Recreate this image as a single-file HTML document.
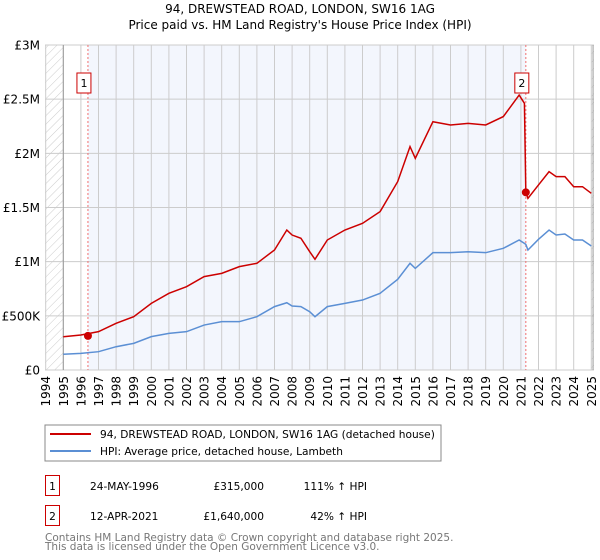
<!DOCTYPE html>
<html><head><meta charset="utf-8"><style>
body{margin:0;background:#fff;font-family:"DejaVu Sans","Liberation Sans",sans-serif;}
svg{display:block}
</style></head><body>
<svg id="chart" width="600" height="560" xmlns="http://www.w3.org/2000/svg" font-family="DejaVu Sans, Liberation Sans, sans-serif">
<defs><pattern id="hatch" width="6" height="6" patternUnits="userSpaceOnUse" patternTransform="rotate(45)"><line x1="0" y1="0" x2="0" y2="6" stroke="#ccc" stroke-width="1"/></pattern></defs>
<text x="300" y="13" text-anchor="middle" font-size="12">94, DREWSTEAD ROAD, LONDON, SW16 1AG</text>
<text x="300" y="29" text-anchor="middle" font-size="12">Price paid vs. HM Land Registry's House Price Index (HPI)</text>
<g id="plot"></g>
<rect x="45" y="425" width="396" height="36" fill="#fff" stroke="#888"/>
<line x1="50" y1="434" x2="91" y2="434" stroke="#cc0000" stroke-width="2"/>
<text x="100" y="438" font-size="10.6">94, DREWSTEAD ROAD, LONDON, SW16 1AG (detached house)</text>
<line x1="50" y1="451" x2="91" y2="451" stroke="#5b8fd4" stroke-width="2"/>
<text x="100" y="455" font-size="10.6">HPI: Average price, detached house, Lambeth</text>
<g font-size="10.6">
<rect x="45.5" y="475.5" width="14" height="20" fill="#fff" stroke="#cc0000"/>
<text x="52.5" y="490" text-anchor="middle">1</text>
<text x="90" y="490">24-MAY-1996</text>
<text x="264" y="490" text-anchor="end">£315,000</text>
<text x="367" y="490" text-anchor="end">111% ↑ HPI</text>
<rect x="45.5" y="505.5" width="14" height="20" fill="#fff" stroke="#cc0000"/>
<text x="52.5" y="520" text-anchor="middle">2</text>
<text x="90" y="520">12-APR-2021</text>
<text x="264" y="520" text-anchor="end">£1,640,000</text>
<text x="367" y="520" text-anchor="end">42% ↑ HPI</text>
</g>
<text x="45" y="541" font-size="10.5" fill="#777">Contains HM Land Registry data © Crown copyright and database right 2025.</text>
<text x="45" y="550" font-size="10.5" fill="#777">This data is licensed under the Open Government Licence v3.0.</text>
</svg>
<script>
const yearsT=[1995,1996,1997,1998,1999,2000,2001,2002,2003,2004,2005,2006,2007,2007.7,2008,2008.5,2009,2009.3,2010,2011,2012,2013,2014,2014.7,2015,2016,2017,2018,2019,2020,2020.9,2021.2];
const redBefore=[307000,323000,354000,431000,492000,615000,708000,769000,862000,892000,954000,985000,1108000,1292000,1246000,1216000,1092000,1022000,1200000,1292000,1354000,1462000,1739000,2062000,1954000,2292000,2262000,2277000,2262000,2339000,2538000,2462000];
const blue=[145000,154000,169000,215000,246000,308000,338000,354000,415000,446000,446000,492000,585000,621000,591000,585000,538000,492000,585000,615000,646000,708000,837000,985000,938000,1083000,1083000,1092000,1083000,1123000,1200000,1169000];
const yearsAfter=[2021.28,2021.4,2022,2022.6,2023,2023.5,2024,2024.5,2025];
const redAfter=[1640000,1585000,1708000,1831000,1785000,1785000,1692000,1692000,1631000];
const blueAfter=[1160000,1108000,1206000,1292000,1246000,1255000,1200000,1200000,1145000];
const saleYears=[1996.4,2021.28];
const salePrices=[315000,1640000];
const saleLabels=["1","2"];
const yTickVals=[0,500000,1000000,1500000,2000000,2500000,3000000];
const yTickLabels=["£0","£500K","£1M","£1.5M","£2M","£2.5M","£3M"];
const xTickYears=[1994,1995,1996,1997,1998,1999,2000,2001,2002,2003,2004,2005,2006,2007,2008,2009,2010,2011,2012,2013,2014,2015,2016,2017,2018,2019,2020,2021,2022,2023,2024,2025];
const NS="http://www.w3.org/2000/svg";
const X=y=>63.3+17.6*(y-1995);
const Y=v=>370-v/3000000*325;
const g=document.getElementById('plot');
function mk(t,a){const e=document.createElementNS(NS,t);for(const k in a)e.setAttribute(k,a[k]);g.appendChild(e);return e;}
let e;
e=mk('rect',{x:45,y:45,width:X(2025.15)-45,height:325,fill:'#fff'});


e=mk('rect',{x:X(saleYears[0]),y:45,width:X(saleYears[1])-X(saleYears[0]),height:325,fill:'#f3f6fd'});


e=mk('rect',{x:45,y:45,width:X(1995)-45,height:325,fill:'url(#hatch)'});


e=mk('rect',{x:X(2025),y:45,width:X(2025.15)-X(2025),height:325,fill:'url(#hatch)'});


xTickYears.forEach(yr=>{
 e=mk('line',{x1:X(yr),x2:X(yr),y1:45,y2:370,stroke:'#ccc','stroke-width':1});
 
 
 e=mk('text',{x:0,y:0,'font-size':12,'text-anchor':'end',transform:`translate(${X(yr)+4.5},376) rotate(-90)`});
 e.textContent=yr;
 
 
});
yTickVals.forEach((v,i)=>{
 e=mk('line',{x1:45,x2:X(2025.15),y1:Y(v),y2:Y(v),stroke:'#ccc','stroke-width':1});
 
 
 e=mk('text',{x:40,y:Y(v)+4.5,'font-size':12,'text-anchor':'end'});
 e.textContent=yTickLabels[i];
 
 
});
e=mk('line',{x1:X(1995),x2:X(1995),y1:45,y2:370,stroke:'#999'});


e=mk('line',{x1:X(2025.1),x2:X(2025.1),y1:45,y2:370,stroke:'#999'});


saleYears.forEach((s,i)=>{
 e=mk('line',{x1:X(s),x2:X(s),y1:45,y2:370,stroke:'#f07070','stroke-dasharray':'2,2'});
 
 
});
const bx=[...yearsT,...yearsAfter], bv=[...blue,...blueAfter];
e=mk('polyline',{points:bx.map((y,i)=>X(y)+','+Y(bv[i])).join(' '),fill:'none',stroke:'#5b8fd4','stroke-width':1.5});


const rx=[...yearsT,...yearsAfter], rv=[...redBefore,...redAfter];
e=mk('polyline',{points:rx.map((y,i)=>X(y)+','+Y(rv[i])).join(' '),fill:'none',stroke:'#cc0000','stroke-width':1.5});


saleYears.forEach((s,i)=>{
 e=mk('circle',{cx:X(s),cy:Y(salePrices[i]),r:4,fill:'#cc0000'});
 
 
 e=mk('rect',{x:X(s)-11,y:73,width:14,height:20,fill:'#fff',stroke:'#cc0000'});
 
 
 e=mk('text',{x:X(s)-4,y:87,'font-size':11,'text-anchor':'middle'});
 e.textContent=saleLabels[i];
 
 
});
</script>
</body></html>
